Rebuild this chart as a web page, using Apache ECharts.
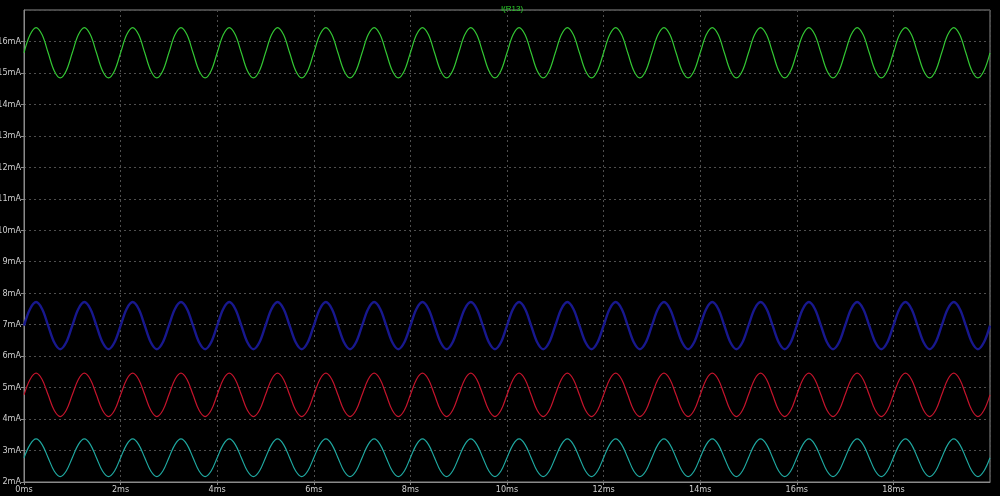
<!DOCTYPE html>
<html>
<head>
<meta charset="utf-8">
<script src="https://cdn.jsdelivr.net/npm/echarts@6/dist/echarts.min.js"></script>
<style>
html,body{margin:0;padding:0;background:#000;}
#c{width:1000px;height:496px;}
</style>
</head>
<body>
<div id="c"></div>
<script>
// time samples in ms (every 1/8 of a 1 ms period)
const timesMs = [0,0.125,0.25,0.375,0.5,0.625,0.75,0.875,1,1.125,1.25,1.375,1.5,1.625,1.75,1.875,2,2.125,2.25,2.375,2.5,2.625,2.75,2.875,3,3.125,3.25,3.375,3.5,3.625,3.75,3.875,4,4.125,4.25,4.375,4.5,4.625,4.75,4.875,5,5.125,5.25,5.375,5.5,5.625,5.75,5.875,6,6.125,6.25,6.375,6.5,6.625,6.75,6.875,7,7.125,7.25,7.375,7.5,7.625,7.75,7.875,8,8.125,8.25,8.375,8.5,8.625,8.75,8.875,9,9.125,9.25,9.375,9.5,9.625,9.75,9.875,10,10.125,10.25,10.375,10.5,10.625,10.75,10.875,11,11.125,11.25,11.375,11.5,11.625,11.75,11.875,12,12.125,12.25,12.375,12.5,12.625,12.75,12.875,13,13.125,13.25,13.375,13.5,13.625,13.75,13.875,14,14.125,14.25,14.375,14.5,14.625,14.75,14.875,15,15.125,15.25,15.375,15.5,15.625,15.75,15.875,16,16.125,16.25,16.375,16.5,16.625,16.75,16.875,17,17.125,17.25,17.375,17.5,17.625,17.75,17.875,18,18.125,18.25,18.375,18.5,18.625,18.75,18.875,19,19.125,19.25,19.375,19.5,19.625,19.75,19.875,20];

// I(R13) trace, mA
const greenMA = [15.64,16.21,16.44,16.21,15.64,15.07,14.84,15.07,15.64,16.21,16.44,16.21,15.64,15.07,14.84,15.07,15.64,16.21,16.44,16.21,15.64,15.07,14.84,15.07,15.64,16.21,16.44,16.21,15.64,15.07,14.84,15.07,15.64,16.21,16.44,16.21,15.64,15.07,14.84,15.07,15.64,16.21,16.44,16.21,15.64,15.07,14.84,15.07,15.64,16.21,16.44,16.21,15.64,15.07,14.84,15.07,15.64,16.21,16.44,16.21,15.64,15.07,14.84,15.07,15.64,16.21,16.44,16.21,15.64,15.07,14.84,15.07,15.64,16.21,16.44,16.21,15.64,15.07,14.84,15.07,15.64,16.21,16.44,16.21,15.64,15.07,14.84,15.07,15.64,16.21,16.44,16.21,15.64,15.07,14.84,15.07,15.64,16.21,16.44,16.21,15.64,15.07,14.84,15.07,15.64,16.21,16.44,16.21,15.64,15.07,14.84,15.07,15.64,16.21,16.44,16.21,15.64,15.07,14.84,15.07,15.64,16.21,16.44,16.21,15.64,15.07,14.84,15.07,15.64,16.21,16.44,16.21,15.64,15.07,14.84,15.07,15.64,16.21,16.44,16.21,15.64,15.07,14.84,15.07,15.64,16.21,16.44,16.21,15.64,15.07,14.84,15.07,15.64,16.21,16.44,16.21,15.64,15.07,14.84,15.07,15.64];
const blueMA = [6.97,7.50,7.72,7.50,6.97,6.44,6.22,6.44,6.97,7.50,7.72,7.50,6.97,6.44,6.22,6.44,6.97,7.50,7.72,7.50,6.97,6.44,6.22,6.44,6.97,7.50,7.72,7.50,6.97,6.44,6.22,6.44,6.97,7.50,7.72,7.50,6.97,6.44,6.22,6.44,6.97,7.50,7.72,7.50,6.97,6.44,6.22,6.44,6.97,7.50,7.72,7.50,6.97,6.44,6.22,6.44,6.97,7.50,7.72,7.50,6.97,6.44,6.22,6.44,6.97,7.50,7.72,7.50,6.97,6.44,6.22,6.44,6.97,7.50,7.72,7.50,6.97,6.44,6.22,6.44,6.97,7.50,7.72,7.50,6.97,6.44,6.22,6.44,6.97,7.50,7.72,7.50,6.97,6.44,6.22,6.44,6.97,7.50,7.72,7.50,6.97,6.44,6.22,6.44,6.97,7.50,7.72,7.50,6.97,6.44,6.22,6.44,6.97,7.50,7.72,7.50,6.97,6.44,6.22,6.44,6.97,7.50,7.72,7.50,6.97,6.44,6.22,6.44,6.97,7.50,7.72,7.50,6.97,6.44,6.22,6.44,6.97,7.50,7.72,7.50,6.97,6.44,6.22,6.44,6.97,7.50,7.72,7.50,6.97,6.44,6.22,6.44,6.97,7.50,7.72,7.50,6.97,6.44,6.22,6.44,6.97];
const redMA = [4.77,5.26,5.46,5.26,4.77,4.28,4.08,4.28,4.77,5.26,5.46,5.26,4.77,4.28,4.08,4.28,4.77,5.26,5.46,5.26,4.77,4.28,4.08,4.28,4.77,5.26,5.46,5.26,4.77,4.28,4.08,4.28,4.77,5.26,5.46,5.26,4.77,4.28,4.08,4.28,4.77,5.26,5.46,5.26,4.77,4.28,4.08,4.28,4.77,5.26,5.46,5.26,4.77,4.28,4.08,4.28,4.77,5.26,5.46,5.26,4.77,4.28,4.08,4.28,4.77,5.26,5.46,5.26,4.77,4.28,4.08,4.28,4.77,5.26,5.46,5.26,4.77,4.28,4.08,4.28,4.77,5.26,5.46,5.26,4.77,4.28,4.08,4.28,4.77,5.26,5.46,5.26,4.77,4.28,4.08,4.28,4.77,5.26,5.46,5.26,4.77,4.28,4.08,4.28,4.77,5.26,5.46,5.26,4.77,4.28,4.08,4.28,4.77,5.26,5.46,5.26,4.77,4.28,4.08,4.28,4.77,5.26,5.46,5.26,4.77,4.28,4.08,4.28,4.77,5.26,5.46,5.26,4.77,4.28,4.08,4.28,4.77,5.26,5.46,5.26,4.77,4.28,4.08,4.28,4.77,5.26,5.46,5.26,4.77,4.28,4.08,4.28,4.77,5.26,5.46,5.26,4.77,4.28,4.08,4.28,4.77];
const cyanMA = [2.77,3.19,3.37,3.19,2.77,2.35,2.17,2.35,2.77,3.19,3.37,3.19,2.77,2.35,2.17,2.35,2.77,3.19,3.37,3.19,2.77,2.35,2.17,2.35,2.77,3.19,3.37,3.19,2.77,2.35,2.17,2.35,2.77,3.19,3.37,3.19,2.77,2.35,2.17,2.35,2.77,3.19,3.37,3.19,2.77,2.35,2.17,2.35,2.77,3.19,3.37,3.19,2.77,2.35,2.17,2.35,2.77,3.19,3.37,3.19,2.77,2.35,2.17,2.35,2.77,3.19,3.37,3.19,2.77,2.35,2.17,2.35,2.77,3.19,3.37,3.19,2.77,2.35,2.17,2.35,2.77,3.19,3.37,3.19,2.77,2.35,2.17,2.35,2.77,3.19,3.37,3.19,2.77,2.35,2.17,2.35,2.77,3.19,3.37,3.19,2.77,2.35,2.17,2.35,2.77,3.19,3.37,3.19,2.77,2.35,2.17,2.35,2.77,3.19,3.37,3.19,2.77,2.35,2.17,2.35,2.77,3.19,3.37,3.19,2.77,2.35,2.17,2.35,2.77,3.19,3.37,3.19,2.77,2.35,2.17,2.35,2.77,3.19,3.37,3.19,2.77,2.35,2.17,2.35,2.77,3.19,3.37,3.19,2.77,2.35,2.17,2.35,2.77,3.19,3.37,3.19,2.77,2.35,2.17,2.35,2.77];

const titleText = 'I(R13)';
const xUnit = 'ms';
const yUnit = 'mA';

function pairs(vals){ return timesMs.map((t,i)=>[t, vals[i]]); }

const chart = echarts.init(document.getElementById('c'), null, {renderer:'canvas'});
const labelStyle = {color:'#cfcfcf', fontSize:9, fontFamily:'"Liberation Sans Narrow", "DejaVu Sans Condensed", Arial, sans-serif'};
const gridLine = {show:true, lineStyle:{color:'#4e4e4e', type:[2,3], width:1}};

function line(name, vals, color, width){
  return {name, type:'line', data:pairs(vals), smooth:0.35, showSymbol:false, symbol:'none',
    lineStyle:{color, width}, itemStyle:{color}, animation:false, clip:true};
}

chart.setOption({
  backgroundColor:'#000000',
  animation:false,
  title:{text:titleText, left:507, top:0, textAlign:'center',
    textStyle:{color:'#2ad12a', fontSize:8, fontWeight:'normal', fontFamily:'"Liberation Sans Narrow", Arial, sans-serif'}},
  grid:{left:24, right:10, top:10, bottom:14, containLabel:false, outerBoundsMode:'none',
    show:true, borderColor:'#8a8a8a', borderWidth:1, backgroundColor:'transparent'},
  xAxis:{type:'value', min:0, max:20, interval:2,
    axisLine:{show:true, lineStyle:{color:'#8a8a8a'}},
    axisTick:{show:true, length:3, lineStyle:{color:'#8a8a8a'}},
    axisLabel:Object.assign({margin:3, showMaxLabel:false, formatter:v=>v+xUnit}, labelStyle),
    splitLine:gridLine},
  yAxis:{type:'value', min:2, max:17, interval:1,
    axisLine:{show:true, lineStyle:{color:'#8a8a8a'}},
    axisTick:{show:true, length:3, lineStyle:{color:'#8a8a8a'}},
    axisLabel:Object.assign({margin:3, showMaxLabel:false, formatter:v=>v+yUnit}, labelStyle),
    splitLine:gridLine},
  series:[
    line('I(R13)', greenMA, '#33c633', 1.2),
    line('blue', blueMA, '#18188e', 2.4),
    line('red', redMA, '#c4142c', 1.2),
    line('cyan', cyanMA, '#1fa8a0', 1.2)
  ]
});
</script>
</body>
</html>
